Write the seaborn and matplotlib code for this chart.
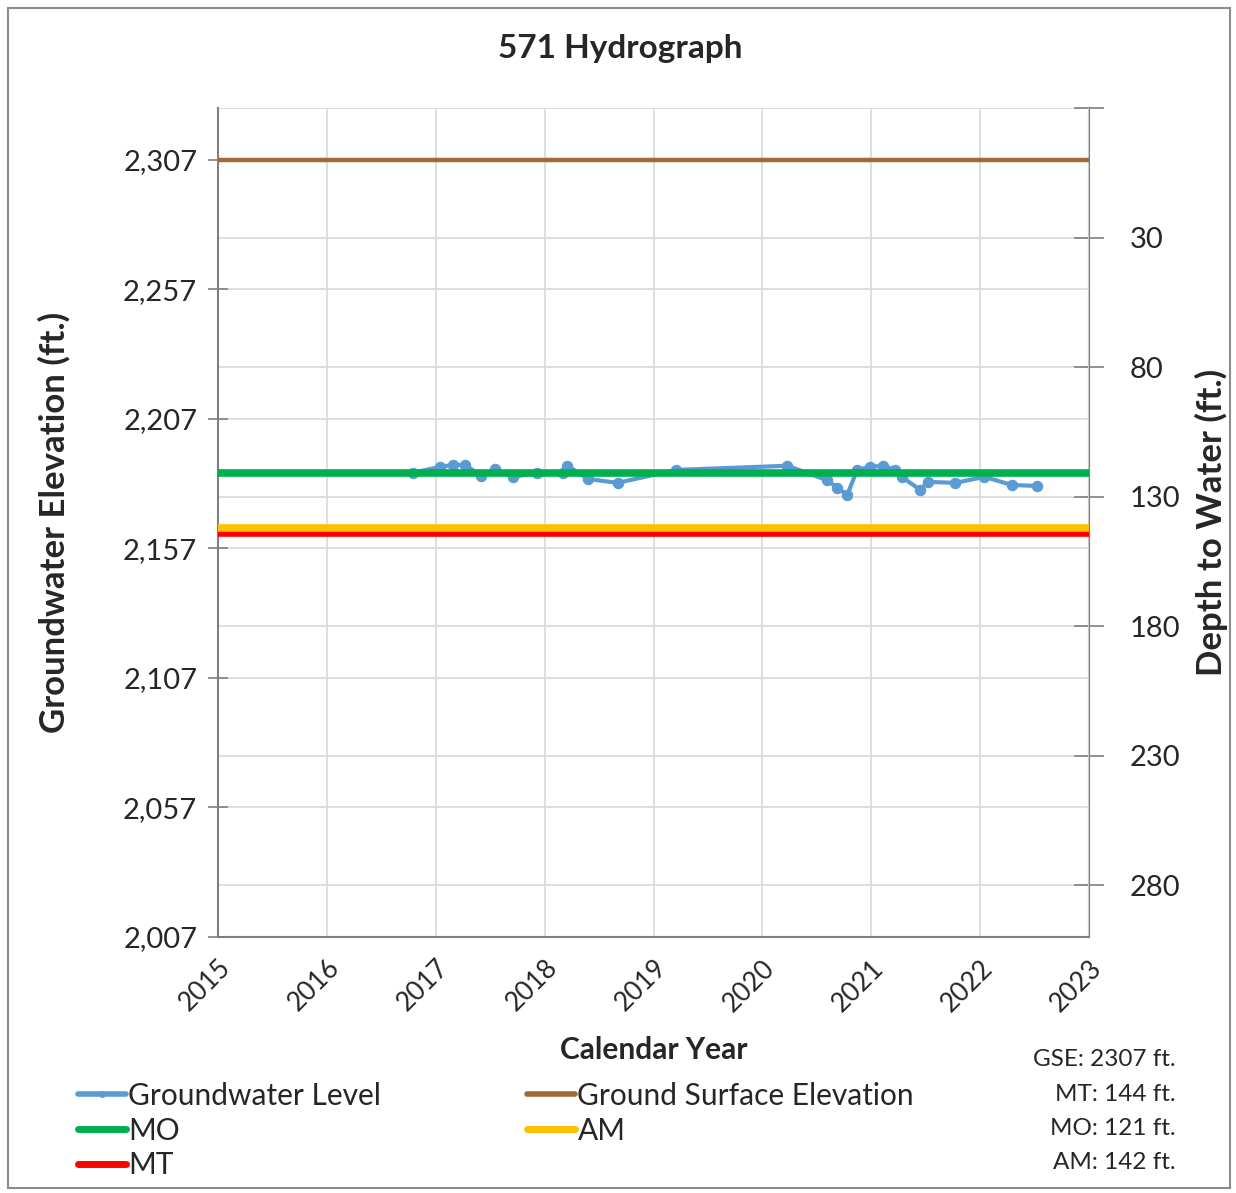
import numpy as np
import pandas as pd
import matplotlib
matplotlib.use("Agg")
import matplotlib.pyplot as plt
import seaborn as sns
from matplotlib.patches import Rectangle
from matplotlib.lines import Line2D

sns.set_theme(style="white")
plt.rcParams['font.family'] = ['Lato', 'DejaVu Sans']

# ---- data ----
gw_year = [2016.79, 2017.04, 2017.16, 2017.27, 2017.42, 2017.54, 2017.71, 2017.93,
           2018.17, 2018.21, 2018.40, 2018.67, 2019.21, 2020.23, 2020.59, 2020.69,
           2020.78, 2020.87, 2020.99, 2021.11, 2021.22, 2021.28, 2021.45, 2021.52,
           2021.77, 2022.04, 2022.29, 2022.52]
gw_elev = [2186.2, 2188.5, 2189.2, 2189.2, 2185.0, 2187.7, 2184.6, 2186.2,
           2186.2, 2188.9, 2183.8, 2182.3, 2187.3, 2188.9, 2183.4, 2180.4,
           2177.7, 2187.3, 2188.5, 2188.9, 2187.3, 2184.6, 2179.6, 2182.7,
           2182.3, 2184.6, 2181.5, 2181.1]
gse = 2307
mt_depth = 144
mo_depth = 121
am_depth = 142
x_span = [2015, 2023]
year_ticks = [2015, 2016, 2017, 2018, 2019, 2020, 2021, 2022, 2023]
elev_ticks = [2007, 2057, 2107, 2157, 2207, 2257, 2307]
elev_labels = ["2,007", "2,057", "2,107", "2,157", "2,207", "2,257", "2,307"]
depth_ticks = [-20, 30, 80, 130, 180, 230, 280]
depth_labels = ["", "30", "80", "130", "180", "230", "280"]

# colours
c_gw = "#5B9BD5"
c_gse = "#9C6B36"
c_mo = "#00B050"
c_am = "#FFC000"
c_mt = "#FF0000"

fig = plt.figure(figsize=(12.36, 11.93), dpi=100)
ax = fig.add_axes([218/1236, 1-937/1193, (1089-218)/1236, (937-108)/1193])

ref = pd.DataFrame({
    "year": x_span * 4,
    "elev": [gse]*2 + [gse-mo_depth]*2 + [gse-am_depth]*2 + [gse-mt_depth]*2,
    "name": ["GSE"]*2 + ["MO"]*2 + ["AM"]*2 + ["MT"]*2,
})
sns.lineplot(data=ref[ref.name == "GSE"], x="year", y="elev", color=c_gse, lw=3.2, ax=ax, zorder=3)
sns.lineplot(data=ref[ref.name == "MT"], x="year", y="elev", color=c_mt, lw=5.5, ax=ax, zorder=3)
sns.lineplot(data=ref[ref.name == "AM"], x="year", y="elev", color=c_am, lw=5.5, ax=ax, zorder=3)

gw = pd.DataFrame({"year": gw_year, "elev": gw_elev})
sns.lineplot(data=gw, x="year", y="elev", color=c_gw, lw=3, marker="o", markersize=7.5,
             markeredgecolor=c_gw, ax=ax, zorder=4)
sns.lineplot(data=ref[ref.name == "MO"], x="year", y="elev", color=c_mo, lw=5.5, ax=ax, zorder=5)

ax.set_xlim(2015, 2023)
ax.set_ylim(2007, 2327)
ax.set_xticks(year_ticks)
ax.set_xticklabels([str(y) for y in year_ticks], rotation=45, ha="right", rotation_mode="anchor",
                   fontsize=19)
ax.set_yticks(elev_ticks)
ax.set_yticklabels(elev_labels, fontsize=21)
ax.tick_params(axis="both", direction="inout", length=14, width=1.2, color="#7f7f7f", pad=8)
ax.tick_params(axis="x", pad=6)
ax.grid(True, axis="x", color="#d9d9d9", lw=1.2)
ax.grid(False, axis="y")
ax.set_xlabel("Calendar Year", fontsize=21.5, fontweight="bold", labelpad=14)
ax.set_ylabel("Groundwater Elevation (ft.)", fontsize=25, fontweight="bold", labelpad=38)
ax.set_title("571 Hydrograph", fontsize=24, fontweight="bold", pad=36, x=(620-218)/871)
for s in ["top", "right"]:
    ax.spines[s].set_visible(False)
for s in ["left", "bottom"]:
    ax.spines[s].set_color("#7f7f7f")
    ax.spines[s].set_linewidth(1.5)

ax2 = ax.twinx()
ax2.set_ylim(300, -20)
ax2.set_yticks(depth_ticks)
ax2.set_yticklabels(depth_labels, fontsize=21)
ax2.tick_params(axis="y", direction="inout", length=22, width=1.2, color="#7f7f7f", pad=18)
ax2.grid(True, axis="y", color="#d9d9d9", lw=1.2)
ax2.set_ylabel("Depth to Water (ft.)", fontsize=25, fontweight="bold", labelpad=11)
for s in ["top", "left", "bottom"]:
    ax2.spines[s].set_visible(False)
ax2.spines["right"].set_color("#7f7f7f")
ax2.spines["right"].set_linewidth(1.5)
ax2.set_zorder(0)
ax.set_zorder(1)
ax.patch.set_visible(False)
for t in elev_ticks:
    ax.axhline(t, color="#d9d9d9", lw=1.2, zorder=0)

# legend
handles = [
    Line2D([], [], color=c_gw, lw=4, marker="o", markersize=4),
    Line2D([], [], color=c_mo, lw=5),
    Line2D([], [], color=c_mt, lw=5),
    Line2D([], [], color=c_gse, lw=4),
    Line2D([], [], color=c_am, lw=5),
]
labels = ["Groundwater Level", "MO", "MT", "Ground Surface Elevation", "AM"]
fig.legend(handles, labels, loc="upper left", bbox_to_anchor=(66/1236, 1-1070/1193), ncol=2,
           frameon=False, fontsize=21.5, handlelength=1.6, handletextpad=0.08,
           columnspacing=4.9, labelspacing=0.22, borderaxespad=0)

notes = ["GSE: 2307 ft.", "MT: 144 ft.", "MO: 121 ft.", "AM: 142 ft."]
for i, n in enumerate(notes):
    fig.text(1176/1236, 1-(1060+34.3*i)/1193, n, ha="right", va="center", fontsize=17.5)

fig.add_artist(Rectangle((8/1236, 5/1193), 1222/1236, 1180/1193, transform=fig.transFigure,
                         fill=False, edgecolor="#8c8c8c", lw=1.5))

fig.savefig("out.png", dpi=100)
